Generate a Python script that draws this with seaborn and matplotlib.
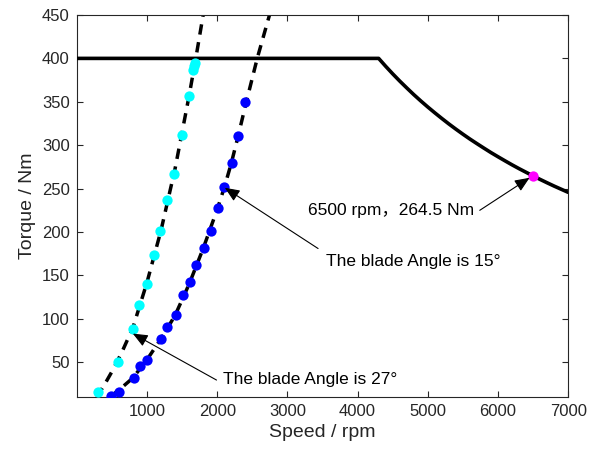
import numpy as np
import pandas as pd
import matplotlib
matplotlib.use("Agg")
import matplotlib.pyplot as plt
import seaborn as sns

# ---- data ----
# external characteristic (torque limit) curve
ext_speed = [0, 4300, 4400, 4500, 4600, 4700, 4800, 4900, 5000, 5100, 5200, 5300, 5400,
             5500, 5600, 5700, 5800, 5900, 6000, 6100, 6200, 6300, 6400, 6500, 6600,
             6700, 6800, 6900, 7000]
ext_torque = [400, 400, 390.9, 382.2, 373.9, 366.0, 358.3, 351.0, 344.0, 337.3, 330.8,
              324.5, 318.5, 312.7, 307.1, 301.8, 296.6, 291.5, 286.7, 282.0, 277.4,
              273.0, 268.8, 264.6, 260.6, 256.7, 252.9, 249.3, 245.7]

# measured points, blade angle 27 deg (cyan)
s27_speed = [295, 589, 802, 888, 993, 1097, 1192, 1287, 1387, 1500, 1596, 1657, 1672, 1685]
s27_torque = [16, 50, 88, 116, 140, 173, 201, 237, 267, 312, 357, 387, 391, 395]

# measured points, blade angle 15 deg (blue)
s15_speed = [494, 598, 808, 897, 997, 1206, 1292, 1406, 1506, 1610, 1699, 1805, 1909, 2009,
             2099, 2204, 2303, 2403]
s15_torque = [11, 16, 32, 46, 53, 77, 91, 104, 127, 142, 162, 182, 201, 228,
              252, 280, 311, 350]

# dashed fitted curves
f27_speed = [285, 400, 520, 650, 800, 1000, 1200, 1400, 1600, 1695, 1800]
f27_torque = [10, 25, 42, 63, 90, 142, 202, 273, 357, 400, 450]
f15_speed = [470, 600, 800, 1000, 1200, 1400, 1600, 1800, 2000, 2100, 2200, 2300, 2400, 2570, 2745]
f15_torque = [10, 18, 32, 53, 77, 104, 140, 181, 226, 251, 279, 311, 345, 400, 450]

# highlighted operating point
pt_speed = [6500]
pt_torque = [264.5]

x_ticks = [1000, 2000, 3000, 4000, 5000, 6000, 7000]
y_ticks = [50, 100, 150, 200, 250, 300, 350, 400, 450]

# ---- style ----
sns.set_style("white")
plt.rcParams["font.family"] = ["Liberation Sans", "Noto Sans CJK SC", "DejaVu Sans"]
dark = "#262626"

fig = plt.figure(figsize=(6.0, 4.54), dpi=100)
ax = fig.add_axes([0.128, 0.1256, 0.819, 0.8414])

ext_df = pd.DataFrame({"speed": ext_speed, "torque": ext_torque})
f27_df = pd.DataFrame({"speed": f27_speed, "torque": f27_torque})
f15_df = pd.DataFrame({"speed": f15_speed, "torque": f15_torque})
s27_df = pd.DataFrame({"speed": s27_speed, "torque": s27_torque})
s15_df = pd.DataFrame({"speed": s15_speed, "torque": s15_torque})
pt_df = pd.DataFrame({"speed": pt_speed, "torque": pt_torque})

sns.lineplot(data=f27_df, x="speed", y="torque", ax=ax, color="black", lw=2.5,
             sort=False, estimator=None, zorder=2)
sns.lineplot(data=f15_df, x="speed", y="torque", ax=ax, color="black", lw=2.5,
             sort=False, estimator=None, zorder=2)
for l in ax.lines:
    l.set_dashes((3.0, 2.2))
    l.set_dash_capstyle("butt")

sns.lineplot(data=ext_df, x="speed", y="torque", ax=ax, color="black", lw=2.6,
             sort=False, estimator=None, zorder=3)

sns.scatterplot(data=s27_df, x="speed", y="torque", ax=ax, color="#00FFFF", s=55,
                linewidth=0, zorder=4)
sns.scatterplot(data=s15_df, x="speed", y="torque", ax=ax, color="#0000FF", s=55,
                linewidth=0, zorder=4)
sns.scatterplot(data=pt_df, x="speed", y="torque", ax=ax, color="#FF00FF", s=55,
                linewidth=0, zorder=5)

# annotations
arrow = dict(arrowstyle="-|>,head_length=0.9,head_width=0.38", color="black", lw=0.8,
             shrinkA=0, shrinkB=0)
ax.annotate("", xy=(6450, 262.5), xytext=(5740, 225), arrowprops=arrow, zorder=6)
ax.text(3290, 225, "6500 rpm，264.5 Nm", fontsize=12.5, ha="left", va="center", color="black")

ax.annotate("", xy=(2108, 251), xytext=(3437, 181), arrowprops=arrow, zorder=6)
ax.text(3555, 166, "The blade Angle is 15°", fontsize=12.5, ha="left", va="center", color="black")

ax.annotate("", xy=(798, 83), xytext=(1990, 29.5), arrowprops=arrow, zorder=6)
ax.text(2080, 30.5, "The blade Angle is 27°", fontsize=12.5, ha="left", va="center", color="black")

# axes
ax.set_xlim(0, 7000)
ax.set_ylim(10, 450)
ax.set_xticks(x_ticks)
ax.set_yticks(y_ticks)
ax.set_xticklabels([str(v) for v in x_ticks])
ax.set_yticklabels([str(v) for v in y_ticks])
ax.tick_params(direction="in", length=4, width=0.8, colors=dark, labelsize=12,
               top=True, right=True, bottom=True, left=True, pad=5)
for sp in ax.spines.values():
    sp.set_visible(True)
    sp.set_color(dark)
    sp.set_linewidth(0.8)
ax.set_xlabel("Speed / rpm", fontsize=14, color=dark, labelpad=4)
ax.set_ylabel("Torque / Nm", fontsize=14, color=dark, labelpad=4)
ax.grid(False)

fig.savefig("out.png", dpi=100)
